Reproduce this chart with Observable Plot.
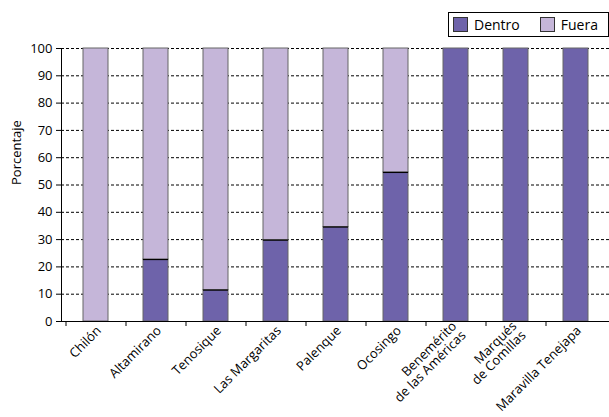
<!DOCTYPE html>
<html>
<head>
<meta charset="utf-8">
<script src="https://cdn.jsdelivr.net/npm/d3@7"></script>
<script src="https://cdn.jsdelivr.net/npm/@observablehq/plot@0.6"></script>
<style>
  html, body { margin: 0; padding: 0; background: #fff; }
  #wrap { position: relative; width: 609px; height: 417px; font-family: "Open Sans", "Noto Sans", sans-serif; }
  #legend { position: absolute; left: 448px; top: 12px; width: 159px; height: 23px; border: 1px solid #000; background: #fff;
            display: flex; align-items: center; font-size: 14px; color: #000; box-sizing: content-box; }
  .sw { display: inline-block; width: 13px; height: 13px; border: 1px solid #333; margin-left: 4px; margin-right: 6px; }
  .item { display: flex; align-items: center; }
</style>
</head>
<body>
<div id="wrap"><div id="legend"></div></div>
<script>
const categories = ["Chilón", "Altamirano", "Tenosique", "Las Margaritas", "Palenque", "Ocosingo",
  "Benemérito\nde las Américas", "Marqués\nde Comillas", "Maravilla Tenejapa"];
const dentro = [0, 22.7, 11.5, 29.8, 34.6, 54.6, 100, 100, 100];
const fuera  = [100, 77.3, 88.5, 70.2, 65.4, 45.4, 0, 0, 0];
const seriesNames = ["Dentro", "Fuera"];
const seriesColors = ["#6e63aa", "#c5b6d9"];
const yTicks = [0, 10, 20, 30, 40, 50, 60, 70, 80, 90, 100];
const yLabel = "Porcentaje";

const rows = [];
categories.forEach((c, i) => {
  rows.push({cat: c, serie: "Dentro", value: dentro[i]});
  rows.push({cat: c, serie: "Fuera", value: fuera[i]});
});
const splits = categories.map((c, i) => ({cat: c, v: dentro[i]})).filter(d => d.v > 0 && d.v < 100);

const chart = Plot.plot({
  width: 609,
  height: 417,
  marginLeft: 61,
  marginRight: 0,
  marginTop: 48,
  marginBottom: 96,
  style: {fontFamily: "Open Sans, Noto Sans, sans-serif", fontSize: "13px", color: "#000", background: "#fff"},
  x: {domain: categories, paddingInner: 0.59, paddingOuter: 0.295, align: 0.5},
  y: {domain: [0, 100]},
  color: {domain: seriesNames, range: seriesColors},
  marks: [
    Plot.ruleY(yTicks.filter(t => t > 0), {stroke: "#000", strokeDasharray: "3,2", strokeWidth: 1}),
    Plot.barY(rows, Plot.stackY({x: "cat", y: "value", fill: "serie", order: seriesNames, stroke: "#666", strokeWidth: 1})),
    Plot.tickY(splits, {x: "cat", y: "v", stroke: "#000", strokeWidth: 1.2}),
    Plot.ruleY([0], {stroke: "#000", strokeWidth: 1}),
    Plot.axisY({ticks: yTicks, tickSize: 5, tickPadding: 4, label: null, fontSize: 13}),
    Plot.axisX({tickRotate: -45, tickSize: 0, tickPadding: 7, dx: 3, label: null, fontSize: 13}),
    Plot.text([yLabel], {frameAnchor: "left", rotate: -90, dx: -45, fontSize: 13})
  ]
});

// y axis line and x boundary ticks via the chart's own scales
const xs = chart.scale("x"), ys = chart.scale("y");
const svg = d3.select(chart);
const y0 = ys.apply(0), y100 = ys.apply(100);
const g = svg.append("g").attr("stroke", "#000").attr("stroke-width", 1);
const left = xs.range[0];
g.append("line").attr("x1", left + 0.5).attr("x2", left + 0.5).attr("y1", y0).attr("y2", y100);
const bounds = categories.map(c => xs.apply(c) + xs.bandwidth / 2 - xs.step / 2);
bounds.push(xs.range[1]);
bounds.forEach(b => {
  g.append("line").attr("x1", b + 0.5).attr("x2", b + 0.5).attr("y1", y0).attr("y2", y0 + 5);
});

document.getElementById("wrap").prepend(chart);

const legend = document.getElementById("legend");
seriesNames.forEach((s, i) => {
  const it = document.createElement("span");
  it.className = "item";
  it.style.marginRight = i === 0 ? "16px" : "0";
  const sw = document.createElement("span");
  sw.className = "sw";
  sw.style.background = seriesColors[i];
  it.appendChild(sw);
  it.appendChild(document.createTextNode(s));
  legend.appendChild(it);
});
</script>
</body>
</html>
